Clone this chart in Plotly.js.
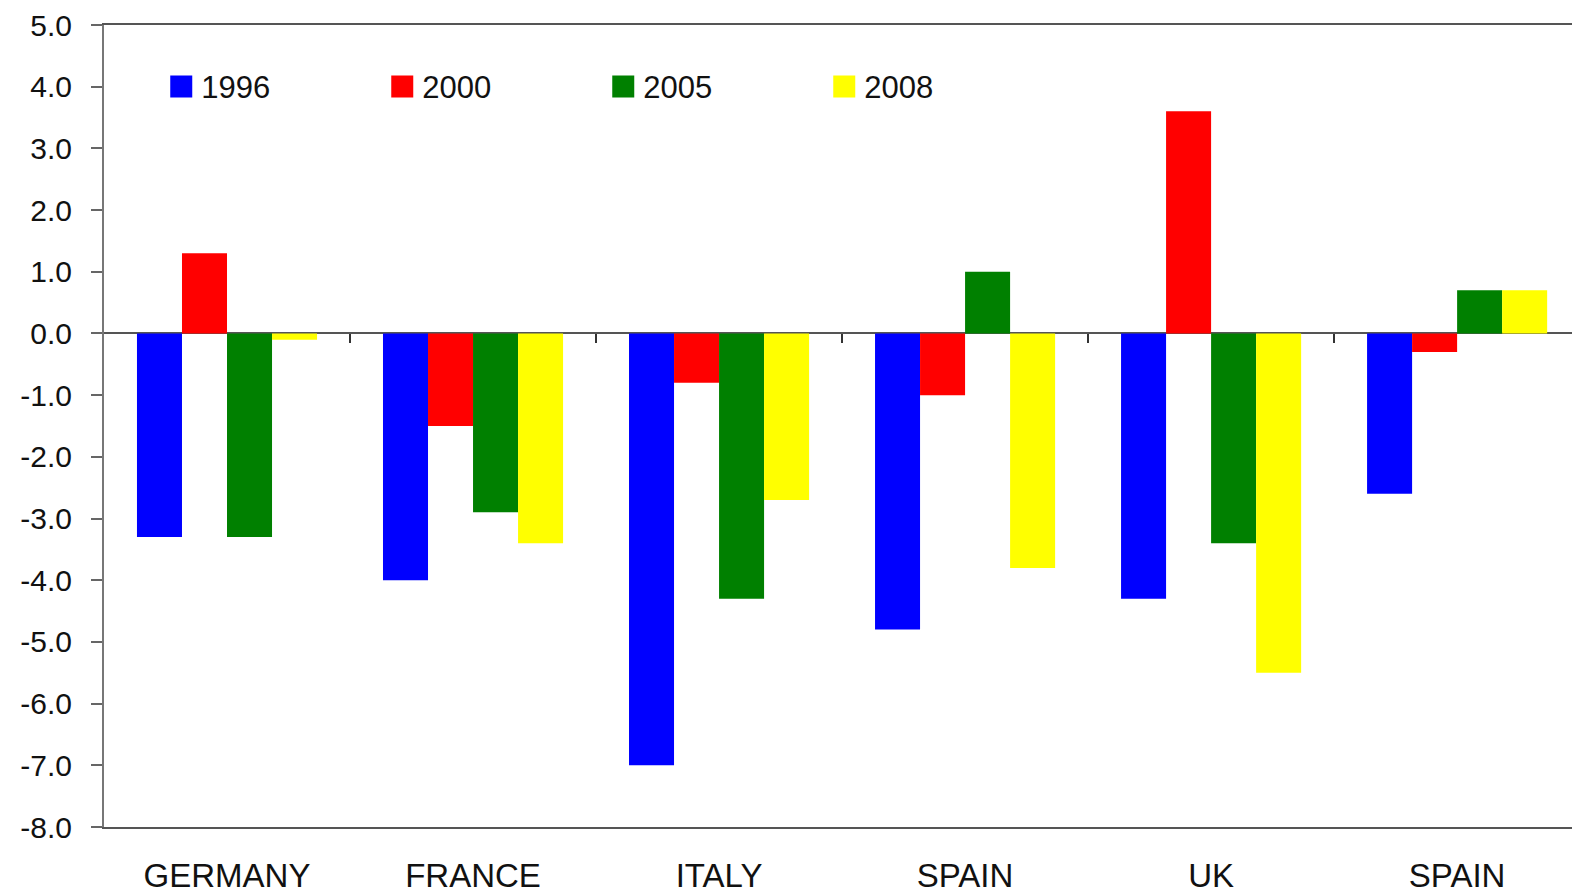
<!DOCTYPE html>
<html>
<head>
<meta charset="utf-8">
<script src="https://cdn.plot.ly/plotly-3.0.1.min.js"></script>
<style>
html, body { margin: 0; padding: 0; background: #ffffff; overflow: hidden; }
#chart { width: 1572px; height: 895px; }
</style>
</head>
<body>
<div id="chart"></div>
<script>
const categories = ["GERMANY", "FRANCE", "ITALY", "SPAIN", "UK", "SPAIN"];
const series1996 = [-3.3, -4.0, -7.0, -4.8, -4.3, -2.6];
const series2000 = [1.3, -1.5, -0.8, -1.0, 3.6, -0.3];
const series2005 = [-3.3, -2.9, -4.3, 1.0, -3.4, 0.7];
const series2008 = [-0.1, -3.4, -2.7, -3.8, -5.5, 0.7];
const seriesNames = ["1996", "2000", "2005", "2008"];
const seriesColors = ["#0000FF", "#FF0000", "#008000", "#FFFF00"];

const seriesValues = [series1996, series2000, series2005, series2008];
const xIdx = categories.map((_, i) => i);
const boundaries = categories.slice(1).map((_, i) => i + 0.5);

const yMin = -8, yMax = 5, yStep = 1;
const yTickVals = [];
for (let v = yMin; v <= yMax; v += yStep) yTickVals.push(v);
const yTickText = yTickVals.map(v => v.toFixed(1));

const FONT = "Liberation Sans, Arial, sans-serif";

const traces = seriesValues.map((vals, k) => ({
  type: "bar",
  name: seriesNames[k],
  x: xIdx,
  y: vals,
  marker: { color: seriesColors[k], line: { width: 0 } },
  hoverinfo: "skip"
}));

// helper trace so the zero-crossing category axis (with tick marks) is drawn
traces.push({
  type: "scatter", mode: "markers", x: [], y: [],
  xaxis: "x2", yaxis: "y", showlegend: false, hoverinfo: "skip"
});

const layout = {
  width: 1572,
  height: 895,
  margin: { l: 104, r: 0, t: 25, b: 68, pad: 0 },
  paper_bgcolor: "#ffffff",
  plot_bgcolor: "#ffffff",
  barmode: "group",
  bargap: 0.268,
  bargroupgap: 0,
  font: { family: FONT, color: "#111111" },
  showlegend: true,
  legend: {
    orientation: "h",
    x: 0.039, xanchor: "left",
    y: 0.923, yanchor: "middle",
    bgcolor: "rgba(0,0,0,0)",
    font: { family: FONT, size: 31, color: "#111111" },
    entrywidth: 176, entrywidthmode: "pixels",
    traceorder: "normal",
    itemclick: false, itemdoubleclick: false
  },
  xaxis: {
    range: [-0.5, 5.467],
    tickmode: "array",
    tickvals: xIdx,
    ticktext: categories,
    ticks: "",
    showgrid: false,
    zeroline: false,
    showline: true,
    linecolor: "#555555",
    linewidth: 2,
    mirror: true,
    tickfont: { family: FONT, size: 33, color: "#111111" },
    ticklabelstandoff: 18,
    fixedrange: true
  },
  xaxis2: {
    overlaying: "x",
    matches: "x",
    anchor: "free",
    position: (0 - yMin) / (yMax - yMin),
    tickmode: "array",
    tickvals: boundaries,
    ticks: "outside",
    ticklen: 9,
    tickwidth: 2,
    tickcolor: "#333333",
    showticklabels: false,
    showgrid: false,
    zeroline: false,
    showline: false,
    fixedrange: true
  },
  yaxis: {
    range: [yMin, yMax],
    tickmode: "array",
    tickvals: yTickVals,
    ticktext: yTickText,
    ticks: "outside",
    ticklen: 11,
    tickwidth: 2,
    tickcolor: "#666666",
    showgrid: false,
    zeroline: true,
    zerolinecolor: "#555555",
    zerolinewidth: 2,
    showline: true,
    linecolor: "#777777",
    linewidth: 2,
    tickfont: { family: FONT, size: 30, color: "#111111" },
    ticklabelstandoff: 13,
    fixedrange: true
  }
};

Plotly.newPlot("chart", traces, layout, { displayModeBar: false, staticPlot: true }).then(() => {
  document.querySelectorAll("#chart .legend .legendpoints path").forEach(p => {
    p.setAttribute("d", "M11,11H-11V-11H11Z");
  });
});
</script>
</body>
</html>
